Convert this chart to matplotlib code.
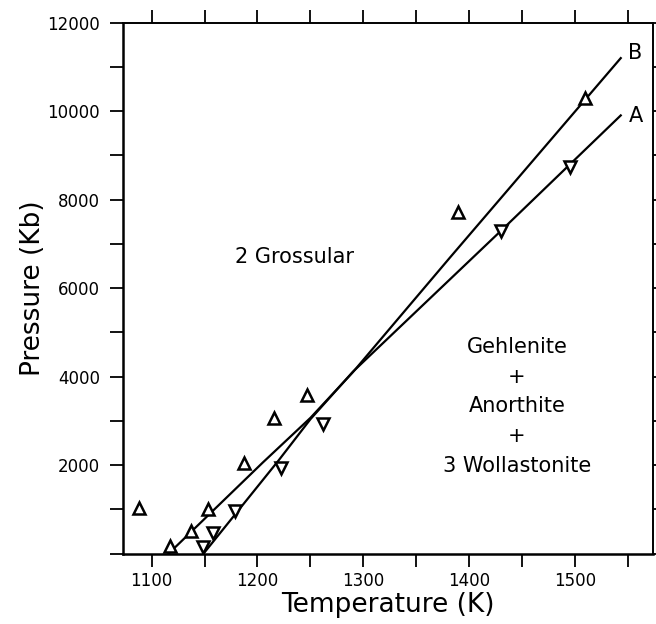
import matplotlib
matplotlib.use("Agg")
import matplotlib.pyplot as plt
from matplotlib.ticker import MultipleLocator, FixedLocator

# --- data ---
b_points_T = [1088, 1117, 1137, 1153, 1187, 1216, 1247, 1389, 1509]
b_points_P = [1030, 180, 520, 1000, 2040, 3075, 3595, 7725, 10300]

a_points_T = [1149, 1158, 1179, 1222, 1262, 1430, 1495]
a_points_P = [160, 470, 970, 1940, 2920, 7300, 8750]

b_line_T = [1116, 1205, 1250, 1290, 1382, 1543]
b_line_P = [0, 2060, 3070, 4100, 6700, 11200]

a_line_T = [1149, 1220, 1250, 1290, 1430, 1543]
a_line_P = [0, 2110, 3040, 4110, 7300, 9905]

x_ticks = [1100, 1200, 1300, 1400, 1500]
y_ticks = [2000, 4000, 6000, 8000, 10000, 12000]

fig = plt.figure(figsize=(6.56, 6.24), dpi=100)
ax = fig.add_axes([0.1875, 0.1127, 0.8072, 0.8509])

ax.plot(b_line_T, b_line_P, color="black", lw=1.6, solid_joinstyle="round")
ax.plot(a_line_T, a_line_P, color="black", lw=1.6, solid_joinstyle="round")
ax.plot(b_points_T, b_points_P, linestyle="none", marker="^", markersize=8,
        markerfacecolor="white", markeredgecolor="black", markeredgewidth=1.8)
ax.plot(a_points_T, a_points_P, linestyle="none", marker="v", markersize=8,
        markerfacecolor="white", markeredgecolor="black", markeredgewidth=1.8)

ax.set_xlim(1073, 1573)
ax.set_ylim(0, 12000)

ax.xaxis.set_major_locator(FixedLocator(x_ticks))
ax.xaxis.set_minor_locator(MultipleLocator(50))
ax.yaxis.set_major_locator(FixedLocator(y_ticks))
ax.yaxis.set_minor_locator(MultipleLocator(1000))

ax.tick_params(axis="both", which="both", direction="out", length=9.5,
               width=1.3, top=True, right=True, labelsize=12, color="black")
ax.tick_params(axis="x", which="major", pad=4)
ax.tick_params(axis="y", which="major", pad=7)

for s in ["left", "bottom"]:
    ax.spines[s].set_linewidth(1.8)
for s in ["top", "right"]:
    ax.spines[s].set_linewidth(1.4)

ax.set_xlabel("Temperature (K)", fontsize=19, labelpad=1)
ax.set_ylabel("Pressure (Kb)", fontsize=19, labelpad=1)

ax.text(1235, 6710, "2 Grossular", fontsize=15, ha="center", va="center")
ax.text(1445, 3330, "Gehlenite\n+\nAnorthite\n+\n3 Wollastonite", fontsize=15,
        ha="center", va="center", multialignment="center", linespacing=1.6)
ax.text(1557, 11320, "B", fontsize=15, ha="center", va="center")
ax.text(1557, 9890, "A", fontsize=15, ha="center", va="center")

fig.savefig("out.png", dpi=100)
